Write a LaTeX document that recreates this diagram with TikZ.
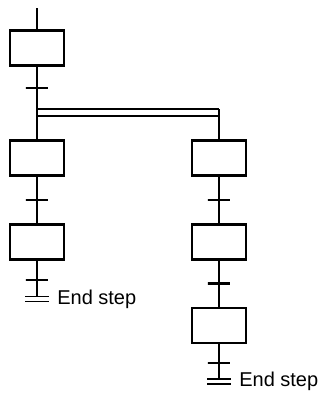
\documentclass[tikz,border=0pt]{standalone}
\usepackage{fontspec}
\setmainfont{Liberation Sans}
\usetikzlibrary{positioning, calc}
\tikzset{
	stepbox/.style={draw, line width=1.4pt, minimum width=27pt, minimum height=17.5pt, inner sep=0pt},
	trans/.style={draw, line width=1.1pt, minimum width=11pt, minimum height=0pt, inner sep=0pt},
	endmark/.style={minimum width=11.5pt, minimum height=2.4pt, inner sep=0pt},
	endline/.style={double, double distance=1.6pt, line width=0.9pt},
	endlabel/.style={font=\fontsize{10}{12}\selectfont, inner sep=0pt},
	flow/.style={line width=1.4pt},
	fork/.style={line width=0.9pt}
}

\begin{document}
\begin{tikzpicture}[node distance=23pt]
	\useasboundingbox (0,0) rectangle (161pt,-199pt);
	% left branch
	\coordinate (start) at (18.5pt,-4pt);
	\node[stepbox] (s1) at (18.5pt,-24pt) {};
	\coordinate (forkL) at (18.5pt,-54.5pt);
	\coordinate (forkR) at (109.5pt,-54.5pt);
	\coordinate (forkL2) at (18.5pt,-58pt);
	\coordinate (forkR2) at (109.5pt,-58pt);
	\node[trans] (t1) at ($(s1.south)!0.5!(forkL)$) {};
	\node[stepbox, below=36pt of s1] (s2) {};
	\node[stepbox, below=of s2] (s3) {};
	\node[trans] (t2) at ($(s2.south)!0.5!(s3.north)$) {};
	\node[endmark] (e1) at (18.5pt,-149.5pt) {};
	\node[trans] (t3) at ($(s3.south)!0.5!(e1.center)$) {};
	\node[endlabel, right=4pt of e1] (l1) {End step};
	% right branch
	\node[stepbox] (r1) at (s2 -| forkR) {};
	\node[stepbox, below=of r1] (r2) {};
	\node[stepbox, below=of r2] (r3) {};
	\node[trans] (u1) at ($(r1.south)!0.5!(r2.north)$) {};
	\node[trans] (u2) at ($(r2.south)!0.5!(r3.north)$) {};
	\node[endmark] (e2) at (109.5pt,-190.8pt) {};
	\node[trans] (u3) at ($(r3.south)!0.5!(e2.center)$) {};
	\node[endlabel, right=4pt of e2] (l2) {End step};

	\draw[flow] (start) -- (s1);
	\draw[flow] (s1) -- (forkL2) -- (s2);
	\draw[flow] (s2) -- (s3);
	\draw[flow] (s3) -- (e1);
	\draw[fork] (forkL) -- (forkR);
	\draw[fork] (forkL2) -- (forkR2);
	\draw[flow] (forkR) -- (r1);
	\draw[flow] (r1) -- (r2);
	\draw[flow] (r2) -- (r3);
	\draw[flow] (r3) -- (e2);
	\draw[endline] (e1.west) -- (e1.east);
	\draw[endline] (e2.west) -- (e2.east);
\end{tikzpicture}
\end{document}
